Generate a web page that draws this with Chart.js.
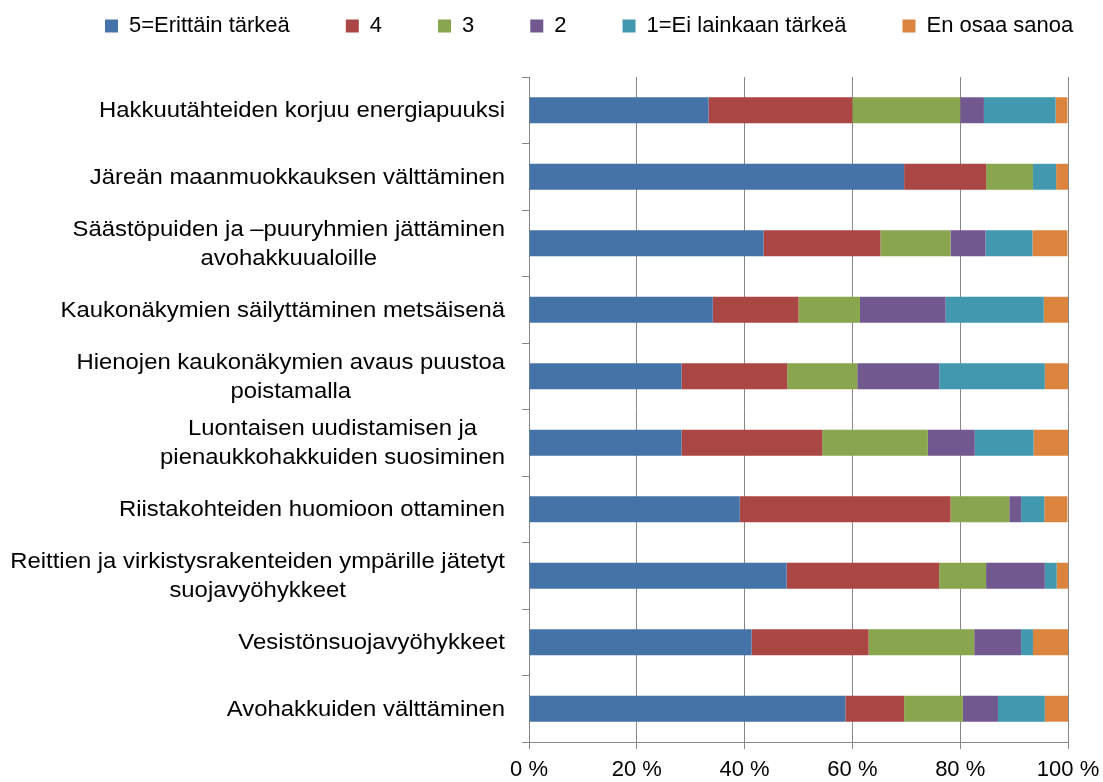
<!DOCTYPE html>
<html><head><meta charset="utf-8">
<script src="https://cdn.jsdelivr.net/npm/chart.js@4.4.0/dist/chart.umd.min.js"></script>
<style>html,body{margin:0;padding:0;background:#fff;overflow:hidden}</style>
</head><body>
<canvas id="c" width="1103" height="782"></canvas>
<script>
const categories = [
  "Hakkuutähteiden korjuu energiapuuksi",
  "Järeän maanmuokkauksen välttäminen",
  ["Säästöpuiden ja –puuryhmien jättäminen", "avohakkuualoille"],
  "Kaukonäkymien säilyttäminen metsäisenä",
  ["Hienojen kaukonäkymien avaus puustoa", "poistamalla"],
  ["Luontaisen uudistamisen ja", "pienaukkohakkuiden suosiminen"],
  "Riistakohteiden huomioon ottaminen",
  ["Reittien ja virkistysrakenteiden ympärille jätetyt", "suojavyöhykkeet"],
  "Vesistönsuojavyöhykkeet",
  "Avohakkuiden välttäminen"
];
const seriesNames = ["5=Erittäin tärkeä", "4", "3", "2", "1=Ei lainkaan tärkeä", "En osaa sanoa"];
const s5  = [33.3, 69.6, 43.5, 34.1, 28.3, 28.3, 39.1, 47.8, 41.3, 58.7];
const s4  = [26.7, 15.2, 21.7, 15.9, 19.6, 26.1, 39.1, 28.3, 21.7, 10.9];
const s3  = [20.0,  8.7, 13.0, 11.4, 13.0, 19.6, 10.9,  8.7, 19.6, 10.9];
const s2  = [ 4.4,  0.0,  6.5, 15.9, 15.2,  8.7,  2.2, 10.9,  8.7,  6.5];
const s1  = [13.3,  4.3,  8.7, 18.2, 19.6, 10.9,  4.3,  2.2,  2.2,  8.7];
const sEOS = [2.2,  2.2,  6.5,  4.5,  4.3,  6.5,  4.3,  2.2,  6.5,  4.3];
const xTickValues = [0, 20, 40, 60, 80, 100];
const xTickSuffix = " %";
const colors = ["#4572A7", "#AA4643", "#89A54E", "#71588F", "#4198AF", "#DB843D"];

const FONT = '"Liberation Sans", Arial, sans-serif';
const seriesData = [s5, s4, s3, s2, s1, sEOS];
const LEGEND_PAD = 56;

const legendFit = {
  id: 'legendFit',
  beforeInit(chart) {
    const lg = chart.legend;
    const f = lg.fit;
    lg.fit = function () {
      const mw = this.maxWidth;
      this.maxWidth = mw + 300;
      f.call(this);
      this.maxWidth = mw;
      this.width = mw;
      this.height = 118;
    };
    const d = lg.draw;
    lg.draw = function () {
      const l = this.left, r = this.right;
      this.left = 105 - LEGEND_PAD;
      this.right = 1400;
      d.apply(this, arguments);
      this.left = l; this.right = r;
    };
  }
};

const yLabels = {
  id: 'yLabels',
  afterDraw(chart) {
    const ctx = chart.ctx, ys = chart.scales.y;
    const fs = 21.5, sx = 1.11, lh = 29, rightEdge = ys.right - 24;
    ctx.save();
    ctx.font = fs + 'px ' + FONT;
    ctx.fillStyle = '#000';
    ctx.textBaseline = 'middle';
    ctx.textAlign = 'center';
    categories.forEach((lab, i) => {
      const lines = Array.isArray(lab) ? lab : [lab];
      const w = Math.max(...lines.map(l => ctx.measureText(l).width)) * sx;
      const cx = rightEdge - w / 2;
      const cy = ys.getPixelForValue(i);
      lines.forEach((l, j) => {
        const ly = cy + (j - (lines.length - 1) / 2) * lh + 1;
        ctx.save();
        ctx.translate(cx, ly);
        ctx.scale(sx, 1);
        ctx.fillText(l, 0, 0);
        ctx.restore();
      });
    });
    ctx.restore();
  }
};

new Chart(document.getElementById('c'), {
  type: 'bar',
  data: {
    labels: categories,
    datasets: seriesNames.map((n, k) => ({
      label: n,
      data: seriesData[k],
      backgroundColor: colors[k],
      borderWidth: 0,
      barPercentage: 0.39,
      categoryPercentage: 1
    }))
  },
  options: {
    indexAxis: 'y',
    responsive: false,
    devicePixelRatio: 1,
    animation: false,
    layout: { padding: { top: -41, left: 105, right: 35, bottom: 0 } },
    plugins: {
      tooltip: { enabled: false },
      legend: {
        position: 'top',
        align: 'start',
        labels: {
          font: { size: 22, family: FONT },
          color: '#000',
          boxWidth: 13,
          boxHeight: 13,
          padding: LEGEND_PAD
        }
      }
    },
    scales: {
      x: {
        stacked: true,
        min: 0, max: 100,
        afterBuildTicks(s) { s.ticks = xTickValues.map(v => ({ value: v })); },
        ticks: {
          callback: v => v + xTickSuffix,
          font: { size: 22, family: FONT },
          color: '#000',
          padding: 8,
          maxRotation: 0
        },
        grid: { color: '#878787', lineWidth: 1, tickLength: 7 },
        border: { color: '#878787', width: 1 },
        afterFit(s) { s.height = 40; s.paddingRight = 0; s.paddingLeft = 0; }
      },
      y: {
        stacked: true,
        offset: true,
        grid: { offset: true, drawOnChartArea: false, color: '#878787', tickLength: 7 },
        border: { color: '#878787', width: 1 },
        ticks: { display: false, autoSkip: false },
        afterFit(s) { s.width = 424; }
      }
    }
  },
  plugins: [legendFit, yLabels]
});
</script>
</body></html>
